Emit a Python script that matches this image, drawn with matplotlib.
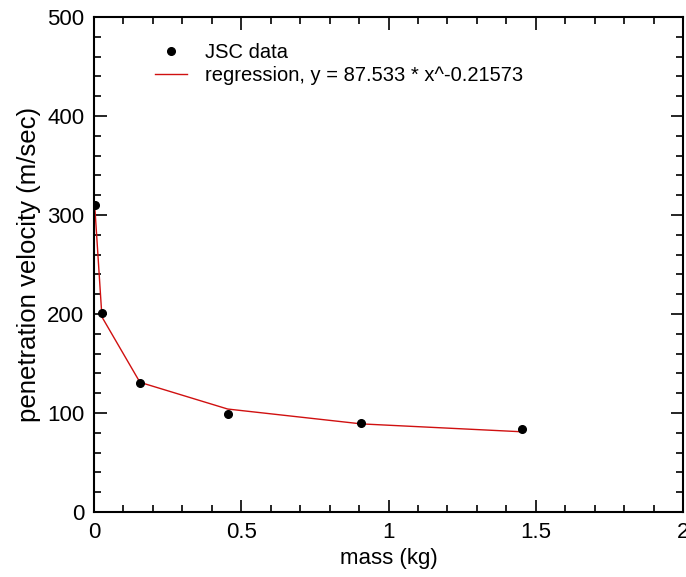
import matplotlib
matplotlib.use("Agg")
import matplotlib.pyplot as plt
from matplotlib.ticker import MultipleLocator

plt.rcParams['font.family'] = ['Liberation Sans', 'DejaVu Sans']

# JSC data
mass = [0.003, 0.027, 0.156, 0.454, 0.908, 1.455]
velocity = [310, 201, 130, 99, 90, 84]
# regression curve read at the same masses
reg_velocity = [307, 197, 131, 104, 89, 81]

fig = plt.figure(figsize=(6.86, 5.77), dpi=100)
ax = fig.add_axes([94/686, 65/577, 589/686, 495/577])

ax.plot(mass, velocity, 'o', color='black', markersize=5.5, label='JSC data', zorder=3)
ax.plot(mass, reg_velocity, '-', color='#d01010', linewidth=1.0,
        label='regression, y = 87.533 * x^-0.21573')

ax.set_xlim(0, 2)
ax.set_ylim(0, 500)
ax.xaxis.set_major_locator(MultipleLocator(0.5))
ax.xaxis.set_minor_locator(MultipleLocator(0.1))
ax.yaxis.set_major_locator(MultipleLocator(100))
ax.yaxis.set_minor_locator(MultipleLocator(20))
ax.set_xticks([0, 0.5, 1, 1.5, 2], ['0', '0.5', '1', '1.5', '2'])
ax.tick_params(which='both', direction='in', top=True, right=True, labelsize=16, width=1.2)
ax.tick_params(which='major', length=9)
ax.tick_params(axis='y', which='major', pad=7)
ax.tick_params(axis='x', which='major', pad=7)
ax.tick_params(which='minor', length=5)
for s in ax.spines.values():
    s.set_linewidth(1.5)

ax.set_xlabel('mass (kg)', fontsize=16, labelpad=4)
ax.set_ylabel('penetration velocity (m/sec)', fontsize=18.5, labelpad=4)

ax.legend(loc='upper left', bbox_to_anchor=(0.072, 0.985), frameon=False, fontsize=14.5,
          handlelength=1.6, handletextpad=0.9, labelspacing=0.2, numpoints=1)

fig.savefig('out.png', dpi=100)
